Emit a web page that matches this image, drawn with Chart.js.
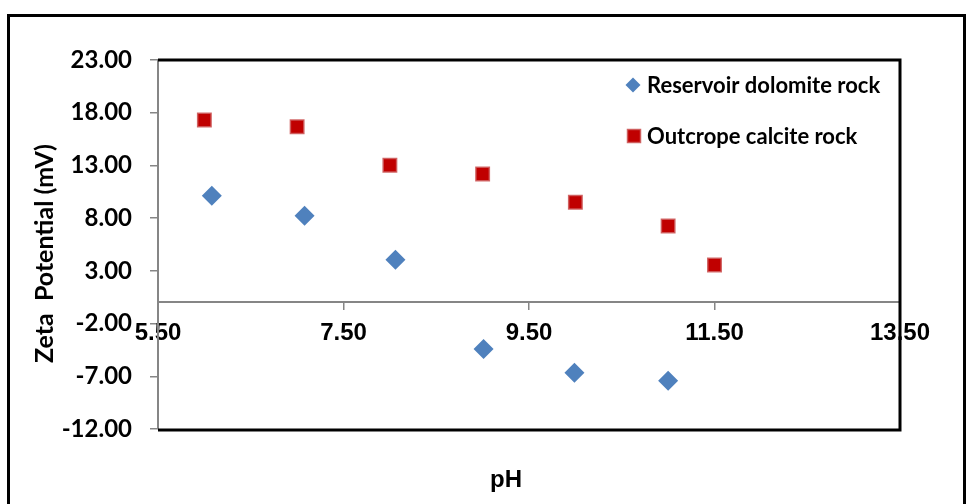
<!DOCTYPE html>
<html>
<head>
<meta charset="utf-8">
<script src="https://cdn.jsdelivr.net/npm/chart.js@4.4.1/dist/chart.umd.min.js"></script>
<style>
  html, body { margin: 0; padding: 0; background: #fff; }
  #wrap { position: relative; width: 968px; height: 504px; overflow: hidden; }
  canvas { display: block; }
</style>
</head>
<body>
<div id="wrap"><canvas id="chart" width="968" height="504"></canvas></div>
<script>
// pH values and zeta potential (mV)
const dolomitePH = [6.08, 7.08, 8.06, 9.01, 9.99, 11.0];
const dolomiteZeta = [10.13, 8.23, 4.06, -4.41, -6.66, -7.42];

const calcitePH = [6.0, 7.0, 8.0, 9.0, 10.0, 11.0, 11.5];
const calciteZeta = [17.31, 16.67, 13.01, 12.19, 9.50, 7.26, 3.56];

const xTicks = [5.5, 7.5, 9.5, 11.5, 13.5];
const yTicks = [-12, -7, -2, 3, 8, 13, 18, 23];

const seriesNames = ['Reservoir dolomite rock', 'Outcrope calcite rock'];

const toPoints = (xs, ys) => xs.map((x, i) => ({ x: x, y: ys[i] }));

const AXIS_GRAY = '#868686';

// outer chart border + black plot area frame (top, right, bottom)
const framePlugin = {
    id: 'frame',
    beforeDraw(chart) {
        const ctx = chart.ctx;
        ctx.save();
        ctx.strokeStyle = '#000';
        ctx.lineWidth = 3;
        ctx.strokeRect(8.5, 15.5, 956, 520);
        ctx.restore();
    },
    afterDraw(chart) {
        const { ctx, chartArea: a } = chart;
        ctx.save();
        ctx.strokeStyle = '#000';
        ctx.lineWidth = 3;
        ctx.beginPath();
        ctx.moveTo(a.left, a.top);
        ctx.lineTo(a.right, a.top);
        ctx.lineTo(a.right, a.bottom + 1);
        ctx.lineTo(a.left, a.bottom + 1);
        ctx.stroke();
        ctx.restore();
    }
};

// legend drawn inside the plot area, top right
const insideLegend = {
    id: 'insideLegend',
    afterDraw(chart) {
        const ctx = chart.ctx;
        const rows = [85, 136];
        ctx.save();
        ctx.font = 'bold 22px Lato, "Open Sans", sans-serif';
        ctx.textBaseline = 'middle';
        ctx.fillStyle = '#000';
        chart.data.datasets.forEach((ds, i) => {
            const y = rows[i];
            ctx.fillStyle = ds.backgroundColor;
            if (ds.pointStyle === 'rectRot') {
                ctx.beginPath();
                ctx.moveTo(633, y - 7.5);
                ctx.lineTo(640.5, y);
                ctx.lineTo(633, y + 7.5);
                ctx.lineTo(625.5, y);
                ctx.closePath();
                ctx.fill();
            } else {
                ctx.fillRect(627.5, y - 6.5, 13, 13);
                ctx.strokeStyle = ds.borderColor;
                ctx.lineWidth = 1.5;
                ctx.strokeRect(627.5, y - 6.5, 13, 13);
            }
            ctx.fillStyle = '#000';
            ctx.fillText(ds.label, 647, y + 1);
        });
        ctx.restore();
    }
};

new Chart(document.getElementById('chart'), {
    type: 'scatter',
    data: {
        datasets: [
            {
                label: seriesNames[0],
                data: toPoints(dolomitePH, dolomiteZeta),
                pointStyle: 'rectRot',
                pointRadius: 10,
                pointHoverRadius: 10,
                backgroundColor: '#4F81BD',
                borderColor: '#4F81BD',
                borderWidth: 0
            },
            {
                label: seriesNames[1],
                data: toPoints(calcitePH, calciteZeta),
                pointStyle: 'rect',
                pointRadius: 9.5,
                pointHoverRadius: 9.5,
                backgroundColor: '#C00000',
                borderColor: 'rgba(205, 90, 90, 0.9)',
                borderWidth: 1.5
            }
        ]
    },
    options: {
        responsive: false,
        animation: false,
        events: [],
        layout: { padding: { left: 0, top: 60, right: 68, bottom: 75 } },
        plugins: {
            legend: { display: false },
            tooltip: { enabled: false }
        },
        scales: {
            x: {
                type: 'linear',
                position: { y: 0 },
                min: 5.5,
                max: 13.5,
                afterBuildTicks: (s) => { s.ticks = xTicks.map(v => ({ value: v })); },
                ticks: {
                    callback: (v) => v.toFixed(2),
                    color: '#000',
                    font: { family: '"Liberation Sans", Arial, sans-serif', size: 24, weight: 'bold' },
                    padding: 9,
                    maxRotation: 0,
                    autoSkip: false
                },
                grid: { drawOnChartArea: false, drawTicks: true, tickLength: 7, color: AXIS_GRAY, lineWidth: 1.5 },
                border: { display: true, color: AXIS_GRAY, width: 2 },
                title: { display: false }
            },
            y: {
                type: 'linear',
                position: 'left',
                min: -12,
                max: 23,
                afterBuildTicks: (s) => { s.ticks = yTicks.map(v => ({ value: v })); },
                afterFit: (s) => { s.width = 158; },
                ticks: {
                    callback: (v) => v.toFixed(2),
                    color: '#000',
                    font: { family: 'Lato, "Open Sans", sans-serif', size: 24, weight: 'bold' },
                    padding: 18,
                    autoSkip: false
                },
                grid: { drawOnChartArea: false, drawTicks: true, tickLength: 8, color: AXIS_GRAY, lineWidth: 1.5 },
                border: { display: true, color: AXIS_GRAY, width: 2 },
                title: {
                    display: true,
                    // trailing spaces nudge the rotated title down a little, as in the original
                    text: 'Zeta  Potential (mV)   ',
                    color: '#000',
                    font: { family: 'Lato, "Open Sans", sans-serif', size: 25, weight: 'bold' },
                    padding: { top: 30, bottom: 0 }
                }
            }
        }
    },
    plugins: [framePlugin, insideLegend, {
        id: 'xTitle',
        afterDraw(chart) {
            const ctx = chart.ctx;
            ctx.save();
            ctx.font = 'bold 24px "Liberation Sans", Arial, sans-serif';
            ctx.fillStyle = '#000';
            ctx.textAlign = 'center';
            ctx.textBaseline = 'middle';
            ctx.fillText('pH', 506, 480);
            ctx.restore();
        }
    }]
});
</script>
</body>
</html>
